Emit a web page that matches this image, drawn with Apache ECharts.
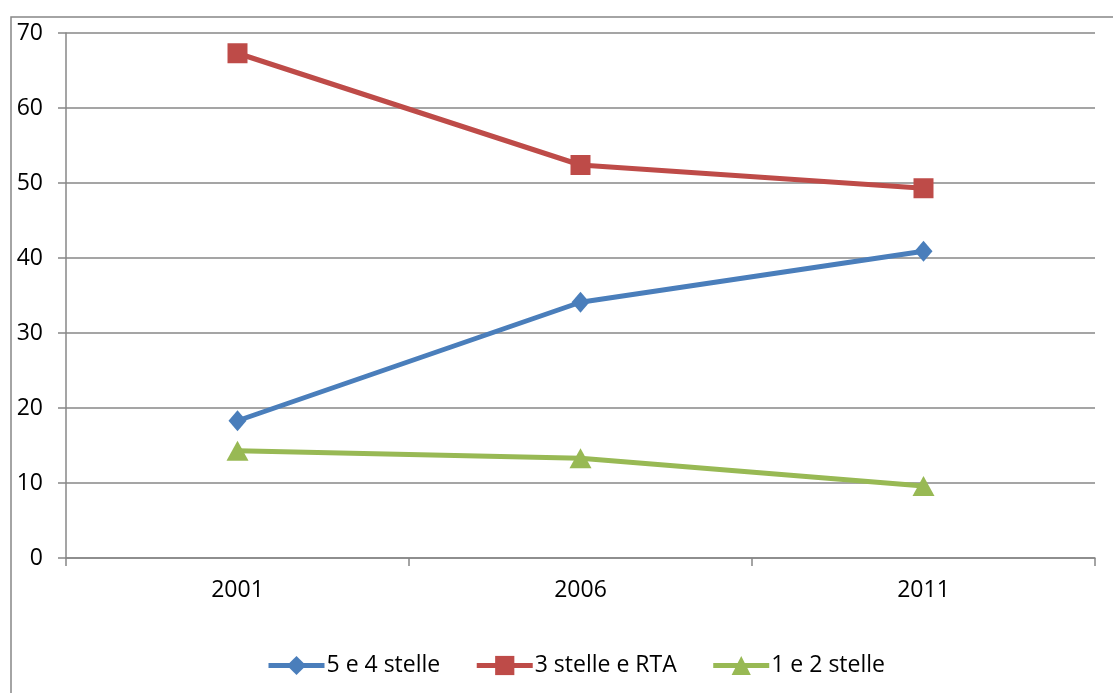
<!DOCTYPE html>
<html>
<head>
<meta charset="utf-8">
<script src="https://cdn.jsdelivr.net/npm/echarts@6/dist/echarts.min.js"></script>
<style>
  html, body { margin: 0; padding: 0; background: #fff; }
  #chart { width: 1113px; height: 693px; }
</style>
</head>
<body>
<div id="chart"></div>
<script>
// Hotel share by category (%)
const years = ['2001', '2006', '2011'];
const seriesNames = ['5 e 4 stelle', '3 stelle e RTA', '1 e 2 stelle'];
const stelle54 = [18.3, 34.1, 40.9];
const stelle3Rta = [67.3, 52.4, 49.3];
const stelle12 = [14.3, 13.3, 9.6];
const yTicks = [0, 10, 20, 30, 40, 50, 60, 70];

const font = '"Open Sans", Lato, "Liberation Sans", sans-serif';
const gridColor = '#878787';

const chart = echarts.init(document.getElementById('chart'), null, { renderer: 'canvas' });

function lineSeries(name, data, color, symbol, size) {
  return {
    name: name,
    type: 'line',
    data: data,
    symbol: symbol,
    symbolSize: size,
    showSymbol: true,
    lineStyle: { color: color, width: 5 },
    itemStyle: { color: color },
    emphasis: { disabled: true },
    z: 3
  };
}

chart.setOption({
  animation: false,
  backgroundColor: '#ffffff',
  graphic: [{
    type: 'rect',
    shape: { x: 11, y: 17, width: 1200, height: 800 },
    style: { fill: 'none', stroke: gridColor, lineWidth: 1.5 },
    silent: true,
    z: -1
  }],
  grid: { left: 66, right: 18, top: 33, bottom: 135, containLabel: false },
  legend: {
    top: 649,
    left: 261,
    itemWidth: 56,
    itemHeight: 24,
    itemGap: 34,
    lineStyle: { width: 5 },
    textStyle: { fontFamily: font, fontSize: 23, color: '#000', padding: [0, 0, 0, -3] },
    data: seriesNames
  },
  xAxis: {
    type: 'category',
    data: years,
    boundaryGap: true,
    axisLine: { lineStyle: { color: gridColor, width: 1.5 } },
    axisTick: { show: true, length: 8, inside: false, alignWithLabel: false, lineStyle: { color: gridColor, width: 1.5 } },
    axisLabel: { fontFamily: font, fontSize: 23, color: '#000', margin: 21 }
  },
  yAxis: {
    type: 'value',
    min: yTicks[0],
    max: yTicks[yTicks.length - 1],
    interval: 10,
    axisLine: { show: true, lineStyle: { color: gridColor, width: 1.5 } },
    axisTick: { show: true, length: 8, lineStyle: { color: gridColor, width: 1.5 } },
    splitLine: { show: true, lineStyle: { color: gridColor, width: 1.5 } },
    axisLabel: { fontFamily: font, fontSize: 23, color: '#000', margin: 23 }
  },
  series: [
    lineSeries(seriesNames[0], stelle54, '#4A7EBB', 'diamond', [18, 21]),
    lineSeries(seriesNames[1], stelle3Rta, '#BE4B48', 'rect', 20),
    lineSeries(seriesNames[2], stelle12, '#98B954', 'triangle', [22, 20])
  ]
});
</script>
</body>
</html>
